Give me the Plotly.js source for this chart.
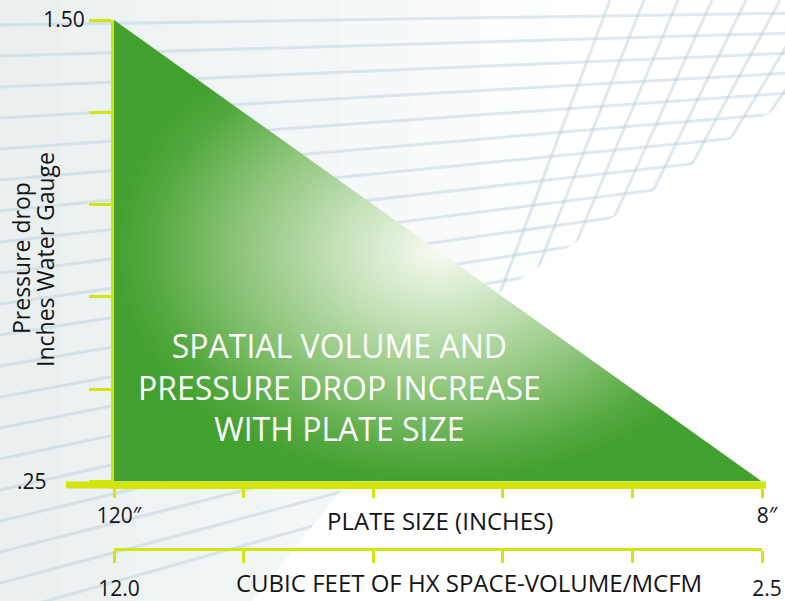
<!DOCTYPE html>
<html>
<head>
<meta charset="utf-8">
<script src="https://cdn.plot.ly/plotly-3.0.1.min.js"></script>
<style>
  html, body { margin: 0; padding: 0; background: #ffffff; }
  #chart { width: 785px; height: 601px; }
</style>
</head>
<body>
<div id="chart"></div>
<script>
// ---- data ----
const plateTickVals = [0, 1, 2, 3, 4, 5];
const plateTickText = ['120\u2033', '', '', '', '', '8\u2033'];
const volumeTickText = ['12.0', '', '', '', '', '2.5'];
const pressureTickVals = [0.25, 0.50, 0.75, 1.00, 1.25, 1.50];
const pressureTickText = ['.25' + '\u00A0'.repeat(7), '', '', '', '', '1.50'];
const triangleX = [0, 0, 5];
const triangleY = [1.50, 0.25, 0.25];

const plateTitle = 'PLATE SIZE (INCHES)';
const volumeTitle = 'CUBIC FEET OF HX SPACE-VOLUME/MCFM';
const pressureTitleLines = ['Pressure drop', 'Inches Water Gauge'];
const message = 'SPATIAL VOLUME AND<br>PRESSURE DROP INCREASE<br>WITH PLATE SIZE';

// ---- styling ----
const FONT = '"Open Sans", Lato, sans-serif';
const YELLOW = '#d3e50b';
const GREEN = '#43a12f';
const INK = '#141414';
const W = 785, H = 601;
const M = {l: 114, r: 23, t: 20, b: 52};
const plotW = W - M.l - M.r, paperH = H - M.t - M.b;
const px = X => (X - M.l) / plotW;
const py = Y => (H - M.b - Y) / paperH;
const yDomBottom = py(481.5);

// decorative background (paper coords)
const bgShapes = [];
for (let s = 0; s < 8; s++) {
  bgShapes.push({type: 'rect', xref: 'paper', yref: 'paper', layer: 'below',
    x0: px(0), x1: px(60 + s * 70), y0: py(610), y1: py(-10),
    fillcolor: 'rgba(214,226,233,0.07)', line: {width: 0}});
}
const lineCol = 'rgba(178,202,216,0.42)';
for (let i = 0; i < 20; i++) {
  const y0 = 25 + 31 * i;
  const sl = -0.015 - 0.014 * i;
  bgShapes.push({type: 'line', xref: 'paper', yref: 'paper', layer: 'below',
    x0: px(0), y0: py(y0), x1: px(785), y1: py(y0 + sl * 785),
    line: {color: lineCol, width: 3}});
}
for (let k = 0; k < 9; k++) {
  bgShapes.push({type: 'line', xref: 'paper', yref: 'paper', layer: 'below',
    x0: px(610 + 34 * k), y0: py(0), x1: px(500 + 38 * k), y1: py(293 - 25 * k),
    line: {color: lineCol, width: 3}});
}
const pth = pts => pts.map((p, j) => (j ? 'L' : 'M') + px(p[0]).toFixed(4) + ',' + py(p[1]).toFixed(4)).join(' ') + ' Z';
bgShapes.push({type: 'path', xref: 'paper', yref: 'paper', layer: 'below',
  path: pth([[800, 92], [500, 293], [245, 610], [800, 610]]),
  fillcolor: '#ffffff', line: {width: 0}});

// thick x axis runs beyond the plot on the left
const axisShapes = [{type: 'line', xref: 'paper', yref: 'paper', layer: 'above',
  x0: px(66), x1: px(766), y0: py(485), y1: py(485),
  line: {color: YELLOW, width: 7}}];

const traces = [
  {
    type: 'scatter', x: triangleX, y: triangleY, mode: 'lines',
    fill: 'toself', line: {width: 0, color: GREEN},
    fillcolor: GREEN,
    fillgradient: {type: 'radial', colorscale: [
      [0, '#f7fbf3'], [0.3, '#c6e2ba'], [0.6, '#90c67d'], [0.88, '#55a940'], [1, GREEN]
    ]},
    hoverinfo: 'skip', showlegend: false, xaxis: 'x', yaxis: 'y'
  },
  {
    type: 'scatter', x: [plateTickVals[0], plateTickVals[5]], y: [null, null],
    mode: 'markers', marker: {opacity: 0}, hoverinfo: 'skip', showlegend: false,
    xaxis: 'x2', yaxis: 'y'
  }
];

const tickFont = {family: FONT, size: 21, color: INK};
const layout = {
  width: W, height: H,
  margin: {l: M.l, r: M.r, t: M.t, b: M.b, pad: 0},
  paper_bgcolor: '#ffffff', plot_bgcolor: 'rgba(0,0,0,0)',
  showlegend: false,
  xaxis: {
    domain: [0, 1], range: [0, 5], anchor: 'y',
    tickmode: 'array', tickvals: plateTickVals, ticktext: plateTickText,
    ticks: 'outside', ticklen: 9, tickwidth: 3, tickcolor: YELLOW,
    showline: true, linewidth: 7, linecolor: YELLOW, ticklabelshift: 5,
    showgrid: false, zeroline: false, tickfont: tickFont, fixedrange: true
  },
  xaxis2: {
    overlaying: 'x', anchor: 'free', position: 0, side: 'bottom', range: [0, 5],
    tickmode: 'array', tickvals: plateTickVals, ticktext: volumeTickText,
    ticks: 'outside', ticklen: 12, tickwidth: 3, tickcolor: YELLOW,
    showline: true, linewidth: 3, linecolor: YELLOW, ticklabelstandoff: 8, ticklabelshift: 5,
    showgrid: false, zeroline: false, tickfont: tickFont, fixedrange: true
  },
  yaxis: {
    domain: [yDomBottom, 1], range: [0.25, 1.5],
    tickmode: 'array', tickvals: pressureTickVals, ticktext: pressureTickText,
    ticks: 'outside', ticklen: 22, tickwidth: 3, tickcolor: YELLOW,
    showline: true, linewidth: 3, linecolor: YELLOW,
    showgrid: false, zeroline: false, tickfont: tickFont, fixedrange: true
  },
  shapes: bgShapes.concat(axisShapes),
  annotations: [
    {xref: 'paper', yref: 'paper', x: px(339), y: py(387), text: message, showarrow: false,
     xanchor: 'center', yanchor: 'middle', align: 'center',
     font: {family: FONT, size: 32, color: '#ffffff'}},
    {xref: 'paper', yref: 'paper', x: px(440), y: py(520), text: plateTitle, showarrow: false,
     xanchor: 'center', yanchor: 'middle', font: {family: FONT, size: 24, color: INK}},
    {xref: 'paper', yref: 'paper', x: px(469), y: py(600.5), text: volumeTitle, showarrow: false,
     xanchor: 'center', yanchor: 'bottom', font: {family: FONT, size: 24, color: INK}},
    {xref: 'paper', yref: 'paper', x: px(21), y: py(258), text: pressureTitleLines[0], showarrow: false,
     textangle: -90, xanchor: 'center', yanchor: 'middle',
     font: {family: FONT, size: 23, color: INK}},
    {xref: 'paper', yref: 'paper', x: px(45), y: py(260), text: pressureTitleLines[1], showarrow: false,
     textangle: -90, xanchor: 'center', yanchor: 'middle',
     font: {family: FONT, size: 23, color: INK}}
  ]
};

Plotly.newPlot('chart', traces, layout, {displayModeBar: false, staticPlot: true});
</script>
</body>
</html>
